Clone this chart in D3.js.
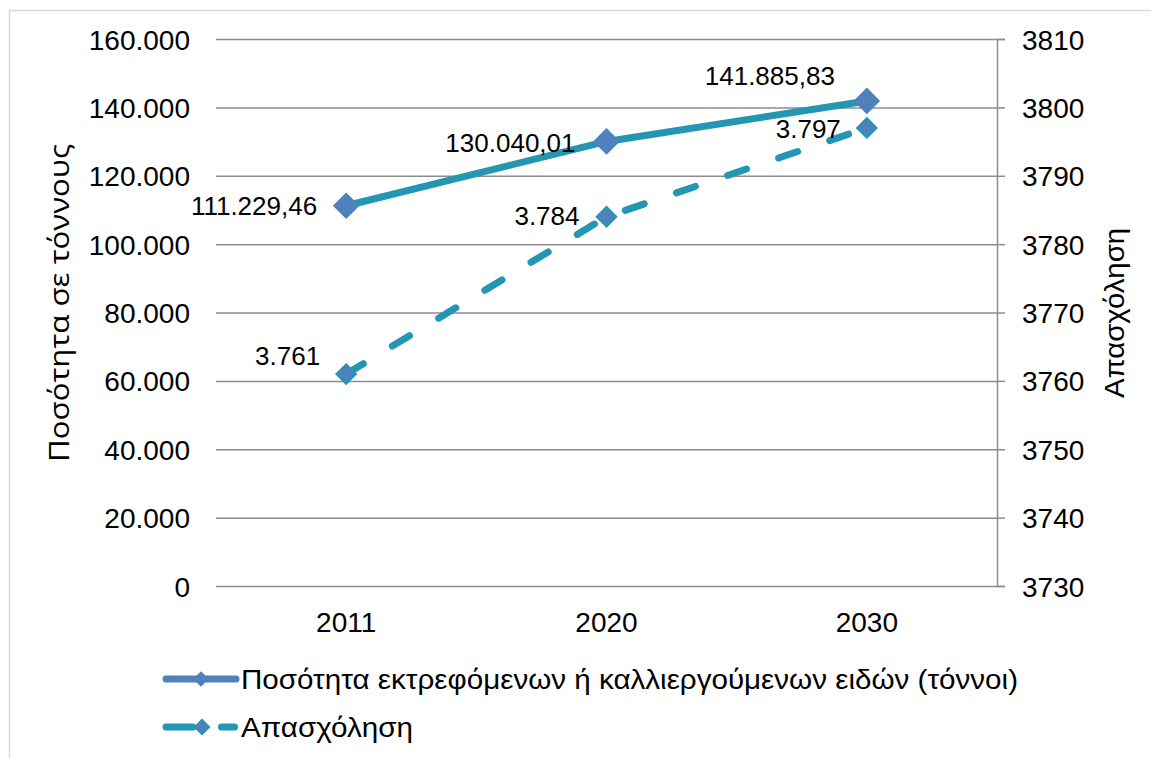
<!DOCTYPE html>
<html>
<head>
<meta charset="utf-8">
<script src="https://cdn.jsdelivr.net/npm/d3@7"></script>
<style>
  html, body { margin: 0; padding: 0; background: #fff; }
  svg { display: block; }
  text { font-family: "Liberation Sans", Arial, sans-serif; fill: #000; }
</style>
</head>
<body>
<svg id="chart" width="1151" height="758"></svg>
<script>
// ---- data ----
const categories = ["2011", "2020", "2030"];
const quantityValues = [111229.46, 130040.01, 141885.83];
const employmentValues = [3761, 3784, 3797];
const leftTicks = [0, 20000, 40000, 60000, 80000, 100000, 120000, 140000, 160000];
const rightTicks = [3730, 3740, 3750, 3760, 3770, 3780, 3790, 3800, 3810];
const seriesNames = ["Ποσότητα εκτρεφόμενων ή καλλιεργούμενων ειδών (τόννοι)", "Απασχόληση"];
const leftTitle = "Ποσότητα σε τόννους";
const rightTitle = "Απασχόληση";

// label placement offsets (annotation layout)
const quantityLabelOffsets = [[-29, 0, "end"], [-31, 1, "end"], [-97, -25, "middle"]];
const employmentLabelOffsets = [[-26, -18, "end"], [-27, -1, "end"], [-26, 1, "end"]];

const TEAL = "#2296b3";
const BLUE = "#4f81bd";
const GRID = "#8c8c8c";

const gr = d3.formatLocale({ decimal: ",", thousands: ".", grouping: [3], currency: ["", "€"] });
const fmtInt = gr.format(",.0f");
const fmt2 = gr.format(",.2f");

const svg = d3.select("#chart");

// outer border
svg.append("rect").attr("x", 9.5).attr("y", 10.5).attr("width", 1160).attr("height", 760)
  .attr("fill", "none").attr("stroke", "#d9d9d9").attr("stroke-width", 1.5);

const pLeft = 216, pRight = 997, pTop = 39, pBottom = 586;

const x = d3.scaleBand().domain(categories).range([pLeft, pRight]);
const cx = c => x(c) + x.bandwidth() / 2;
const yL = d3.scaleLinear().domain([0, 160000]).range([pBottom, pTop]);
const yR = d3.scaleLinear().domain([3730, 3810]).range([pBottom, pTop]);

// left axis + gridlines
const gL = svg.append("g").attr("transform", `translate(${pLeft},0)`)
  .call(d3.axisLeft(yL).tickValues(leftTicks).tickFormat(fmtInt).tickSize(-(pRight - pLeft)).tickPadding(26));
gL.select(".domain").remove();
gL.selectAll(".tick line").attr("stroke", GRID).attr("stroke-width", 1.5);
gL.selectAll(".tick text").style("font-size", "28px").attr("dy", "0.36em");

// right axis
const gR = svg.append("g").attr("transform", `translate(${pRight},0)`)
  .call(d3.axisRight(yR).tickValues(rightTicks).tickFormat(d3.format("d")).tickSize(8).tickPadding(17));
gR.select(".domain").attr("stroke", GRID).attr("stroke-width", 1.5);
gR.selectAll(".tick line").attr("stroke", GRID).attr("stroke-width", 1.5);
gR.selectAll(".tick text").style("font-size", "28px").attr("dy", "0.36em");

// x axis
const gX = svg.append("g").attr("transform", `translate(0,${pBottom})`)
  .call(d3.axisBottom(x).tickSize(0).tickPadding(26));
gX.select(".domain").remove();
gX.selectAll(".tick text").style("font-size", "28px");

// axis titles
svg.append("text").attr("transform", `translate(69,303) rotate(-90)`)
  .attr("text-anchor", "middle").style("font-size", "28px")
  .style("font-family", "'Open Sans', 'Noto Sans', sans-serif")
  .attr("textLength", 318).attr("lengthAdjust", "spacingAndGlyphs").text(leftTitle);
svg.append("text").attr("transform", `translate(1124,313) rotate(-90)`)
  .attr("text-anchor", "middle").style("font-size", "28px")
  .attr("textLength", 170).attr("lengthAdjust", "spacingAndGlyphs").text(rightTitle);

// lines
const lineQ = d3.line().x((d, i) => cx(categories[i])).y(d => yL(d));
const lineE = d3.line().x((d, i) => cx(categories[i])).y(d => yR(d));

svg.append("path").datum(employmentValues).attr("d", lineE)
  .attr("fill", "none").attr("stroke", TEAL).attr("stroke-width", 7)
  .attr("stroke-linecap", "round").attr("stroke-dasharray", "20,34");
svg.append("path").datum(quantityValues).attr("d", lineQ)
  .attr("fill", "none").attr("stroke", TEAL).attr("stroke-width", 7)
  .attr("stroke-linejoin", "round");

const diamond = size => d3.symbol().type(d3.symbolSquare).size(size)();

svg.selectAll(".mE").data(employmentValues).join("path")
  .attr("d", diamond(190))
  .attr("transform", (d, i) => `translate(${cx(categories[i])},${yR(d)}) rotate(45)`)
  .attr("fill", BLUE).attr("stroke", TEAL).attr("stroke-width", 2);
svg.selectAll(".mQ").data(quantityValues).join("path")
  .attr("d", diamond(300))
  .attr("transform", (d, i) => `translate(${cx(categories[i])},${yL(d)}) rotate(45)`)
  .attr("fill", BLUE).attr("stroke", BLUE).attr("stroke-width", 1.5);

// data labels
svg.selectAll(".lQ").data(quantityValues).join("text")
  .attr("x", (d, i) => cx(categories[i]) + quantityLabelOffsets[i][0])
  .attr("y", (d, i) => yL(d) + quantityLabelOffsets[i][1])
  .attr("dy", "0.36em").attr("text-anchor", (d, i) => quantityLabelOffsets[i][2])
  .style("font-size", "26px").text(d => fmt2(d));
svg.selectAll(".lE").data(employmentValues).join("text")
  .attr("x", (d, i) => cx(categories[i]) + employmentLabelOffsets[i][0])
  .attr("y", (d, i) => yR(d) + employmentLabelOffsets[i][1])
  .attr("dy", "0.36em").attr("text-anchor", (d, i) => employmentLabelOffsets[i][2])
  .style("font-size", "26px").text(d => fmtInt(d));

// legend
const lg = svg.append("g");
const ly1 = 679, ly2 = 727;
lg.append("line").attr("x1", 166).attr("x2", 236).attr("y1", ly1).attr("y2", ly1)
  .attr("stroke", BLUE).attr("stroke-width", 7).attr("stroke-linecap", "round");
lg.append("path").attr("d", diamond(120)).attr("transform", `translate(201,${ly1}) rotate(45)`)
  .attr("fill", BLUE);
lg.append("line").attr("x1", 166).attr("x2", 193).attr("y1", ly2).attr("y2", ly2)
  .attr("stroke", TEAL).attr("stroke-width", 7).attr("stroke-linecap", "round");
lg.append("line").attr("x1", 221.5).attr("x2", 234.5).attr("y1", ly2).attr("y2", ly2)
  .attr("stroke", TEAL).attr("stroke-width", 7).attr("stroke-linecap", "round");
lg.append("path").attr("d", diamond(110)).attr("transform", `translate(202,${ly2}) rotate(45)`)
  .attr("fill", BLUE).attr("stroke", TEAL).attr("stroke-width", 1.5);
lg.append("text").attr("x", 241).attr("y", ly1).attr("dy", "0.36em")
  .style("font-size", "28px").attr("textLength", 777).attr("lengthAdjust", "spacingAndGlyphs")
  .text(seriesNames[0]);
lg.append("text").attr("x", 241).attr("y", ly2).attr("dy", "0.36em")
  .style("font-size", "28px").attr("textLength", 172).attr("lengthAdjust", "spacingAndGlyphs")
  .text(seriesNames[1]);
</script>
</body>
</html>
